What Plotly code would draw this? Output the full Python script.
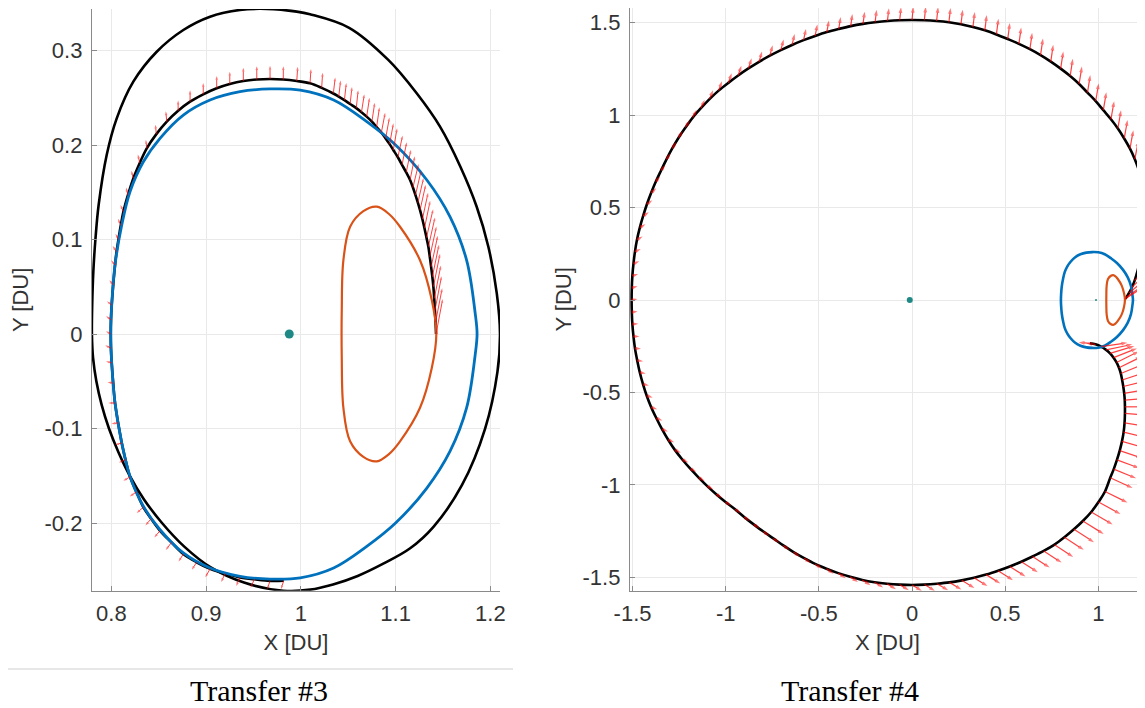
import plotly.graph_objects as go

# ---------------- shared periodic orbits ----------------
blue_x = [1.186, 1.184, 1.175, 1.1575, 1.133, 1.100, 1.0696, 1.0346, 0.9994, 0.9675, 0.9358, 0.9042, 0.876, 0.8514, 0.8338, 0.8197, 0.811, 0.8039, 0.8004, 0.7994,
          0.8004, 0.8039, 0.811, 0.8197, 0.8338, 0.8514, 0.876, 0.9042, 0.9358, 0.9675, 0.9994, 1.0346, 1.0696, 1.100, 1.133, 1.1575, 1.175, 1.184, 1.186]
blue_y = [0.0, 0.022, 0.078, 0.124, 0.163, 0.200, 0.2247, 0.2476, 0.258, 0.2593, 0.2564, 0.2476, 0.2317, 0.2071, 0.1823, 0.1506, 0.1153, 0.073, 0.0307, 0.0,
          -0.0307, -0.073, -0.1153, -0.1506, -0.1823, -0.2071, -0.2317, -0.2476, -0.2564, -0.2593, -0.258, -0.2476, -0.2247, -0.200, -0.163, -0.124, -0.078, -0.022, 0.0]

orange_x = [1.143, 1.1382, 1.1258, 1.1047, 1.093, 1.0801, 1.066, 1.052, 1.0449, 1.0432, 1.0432, 1.0449, 1.052, 1.066, 1.0801, 1.093, 1.1047, 1.1258, 1.1382, 1.143]
orange_y = [0.0, 0.036, 0.078, 0.1135, 0.127, 0.1347, 0.130, 0.1135, 0.078, 0.025, -0.025, -0.078, -0.1135, -0.130, -0.1347, -0.127, -0.1135, -0.078, -0.036, 0.0]

moon_x = [0.9878]
moon_y = [0.0]
earth_x = [-0.012]
earth_y = [0.0]

# ---------------- Transfer #3 ----------------
t3_out_x = [1.2102, 1.2068, 1.1979, 1.1856, 1.1684, 1.1469, 1.1223, 1.0923, 1.051, 1.0097, 0.9957, 0.964, 0.9358, 0.9042, 0.876, 0.8479, 0.8232,
            0.8057, 0.7951, 0.7866, 0.7832, 0.781, 0.7798, 0.7795, 0.7807, 0.7842, 0.7898, 0.7975, 0.8075, 0.8195, 0.8345, 0.8535, 0.877,
            0.905, 0.940, 0.9815, 1.010, 1.034, 1.060, 1.087, 1.115, 1.140, 1.170, 1.1945, 1.2075, 1.2102]
t3_out_y = [0.0, 0.043, 0.0924, 0.1347, 0.177, 0.2194, 0.2547, 0.290, 0.324, 0.3383, 0.3411, 0.344, 0.3429, 0.3358, 0.3217, 0.2987, 0.267,
            0.2282, 0.1894, 0.1365, 0.100, 0.066, 0.030, 0.0, -0.025, -0.050, -0.075, -0.100, -0.125, -0.150, -0.175, -0.200, -0.225,
            -0.247, -0.263, -0.2716, -0.2705, -0.265, -0.256, -0.243, -0.227, -0.204, -0.160, -0.100, -0.040, 0.0]

# thrust arc (also the arrow bases)
t3_in_x = [0.982, 0.9675, 0.951, 0.9358, 0.920, 0.9042, 0.890, 0.876, 0.8635, 0.8514, 0.842, 0.8338, 0.8265, 0.8197, 0.815, 0.811, 0.8072,
           0.8039, 0.802, 0.8004, 0.7996, 0.7994, 0.7996, 0.8004, 0.802, 0.8039,
           0.8055, 0.8075, 0.810, 0.8127, 0.8175, 0.8232, 0.830, 0.8374, 0.8475, 0.8585, 0.8705, 0.8831, 0.897, 0.9112, 0.925, 0.9393,
           0.9535, 0.9675, 0.9815, 0.9957, 1.0097, 1.022,
           1.0343, 1.040, 1.046, 1.052, 1.0585, 1.064, 1.0695, 1.075, 1.080, 1.085, 1.0895, 1.0937, 1.0976, 1.1024, 1.1068, 1.1112, 1.1153,
           1.1183, 1.121, 1.1235, 1.1258, 1.1283, 1.1305, 1.1326, 1.1346, 1.1361, 1.1375, 1.1388, 1.1399, 1.1408, 1.1415, 1.1422, 1.1427]
t3_in_y = [-0.261, -0.2612, -0.2595, -0.2575, -0.2535, -0.2485, -0.2415, -0.2328, -0.2205, -0.2082, -0.1955, -0.1833, -0.167, -0.1512, -0.133, -0.1153, -0.094,
           -0.073, -0.052, -0.0307, -0.015, 0.0, 0.015, 0.0307, 0.052, 0.073,
           0.087, 0.100, 0.115, 0.1294, 0.147, 0.1647, 0.181, 0.1965, 0.2115, 0.2247, 0.2362, 0.2458, 0.2536, 0.260, 0.2645, 0.2677,
           0.2693, 0.2698, 0.2693, 0.2677, 0.2653, 0.2605,
           0.2545, 0.2512, 0.2475, 0.2434, 0.239, 0.2347, 0.230, 0.2247, 0.219, 0.2132, 0.207, 0.2009, 0.1947, 0.187, 0.179, 0.171, 0.163,
           0.155, 0.147, 0.139, 0.131, 0.1215, 0.112, 0.102, 0.0924, 0.0817, 0.071, 0.0605, 0.050, 0.0375, 0.025, 0.0125, 0.0]
t3_thrust_u = [-0.003, -0.003, -0.004, -0.004, -0.004, -0.005, -0.005, -0.005, -0.006, -0.006, -0.006, -0.007,
               -0.007, -0.007, -0.007, -0.007, -0.007, -0.007, -0.006, -0.006, -0.006, -0.005, -0.005, -0.005, -0.004, -0.004,
               -0.004, -0.003, -0.003, -0.003, -0.002, -0.002, -0.002, -0.001, -0.001, -0.001, 0.0, 0.0, 0.0, 0.0, 0.0, 0.0,
               0.0, 0.0, 0.0, 0.001, 0.001, 0.001,
               0.002, 0.002, 0.002, 0.002, 0.002, 0.003, 0.003, 0.003, 0.003, 0.004, 0.004, 0.004, 0.004, 0.005, 0.005, 0.005, 0.005,
               0.006, 0.006, 0.006, 0.006, 0.006, 0.006, 0.007, 0.007, 0.007, 0.007, 0.007, 0.007, 0.007, 0.007, 0.007, 0.007]
t3_thrust_v = [-0.009, -0.009, -0.009, -0.009, -0.009, -0.009, -0.008, -0.008, -0.008, -0.007, -0.007, -0.006,
               -0.005, -0.004, -0.003, -0.002, -0.001, 0.0, 0.001, 0.002, 0.003, 0.003, 0.004, 0.004, 0.005, 0.005,
               0.006, 0.006, 0.007, 0.007, 0.008, 0.008, 0.009, 0.009, 0.010, 0.011, 0.011, 0.012, 0.012, 0.013, 0.013, 0.014,
               0.014, 0.014, 0.014, 0.015, 0.015, 0.016,
               0.017, 0.017, 0.018, 0.018, 0.019, 0.019, 0.020, 0.020, 0.021, 0.021, 0.022, 0.022, 0.023, 0.023, 0.024, 0.024, 0.025,
               0.025, 0.026, 0.026, 0.027, 0.028, 0.029, 0.030, 0.031, 0.032, 0.033, 0.034, 0.035, 0.035, 0.036, 0.036, 0.037]

# ---------------- Transfer #4 (trajectory points are also the arrow bases) ----------------
t4_x = [0.955, 0.985, 1.015, 1.042, 1.063, 1.082, 1.098, 1.111, 1.121, 1.128, 1.134, 1.139, 1.142, 1.143, 1.143,
        1.141, 1.136, 1.127, 1.115, 1.100, 1.083, 1.064,
        1.036, 1.001, 0.962, 0.917, 0.869, 0.818, 0.765, 0.707, 0.647, 0.587, 0.525, 0.462, 0.398, 0.333, 0.267, 0.201, 0.134, 0.067, 0.0,
        -0.067, -0.134, -0.201, -0.267, -0.332, -0.396, -0.459, -0.520, -0.579, -0.636, -0.691, -0.745, -0.798, -0.850, -0.901, -0.950,
        -1.001, -1.051, -1.099, -1.145, -1.190, -1.233, -1.273, -1.309, -1.342, -1.372, -1.400, -1.424, -1.444, -1.461, -1.475, -1.487,
        -1.495, -1.501, -1.504, -1.505,
        -1.504, -1.501, -1.495, -1.487, -1.476, -1.461, -1.443, -1.423, -1.400, -1.375, -1.347, -1.318, -1.287, -1.253, -1.216, -1.177,
        -1.133, -1.087, -1.038, -0.986, -0.933, -0.878, -0.821, -0.763, -0.704, -0.644, -0.582, -0.520, -0.457, -0.393, -0.329, -0.263,
        -0.198, -0.132, -0.066, 0.0,
        0.066, 0.132, 0.198, 0.263, 0.327, 0.391, 0.453, 0.514, 0.574, 0.633, 0.690, 0.745, 0.798, 0.849, 0.897, 0.942, 0.986, 1.027,
        1.068, 1.105, 1.139, 1.170, 1.196, 1.217, 1.230, 1.237, 1.245, 1.250,
        1.248, 1.243, 1.235, 1.224, 1.210, 1.195, 1.180, 1.165, 1.152, 1.143]
t4_y = [-0.234, -0.240, -0.252, -0.270, -0.289, -0.312, -0.338, -0.367, -0.398, -0.433, -0.468, -0.505, -0.542, -0.578, -0.613,
        -0.665, -0.715, -0.765, -0.815, -0.865, -0.915, -0.962,
        -1.036, -1.093, -1.147, -1.196, -1.241, -1.284, -1.324, -1.358, -1.388, -1.416, -1.442, -1.465, -1.486, -1.503, -1.517, -1.528, -1.535, -1.540, -1.542,
        -1.540, -1.535, -1.527, -1.515, -1.498, -1.478, -1.454, -1.428, -1.397, -1.364, -1.328, -1.290, -1.253, -1.214, -1.174, -1.132,
        -1.093, -1.051, -1.007, -0.961, -0.913, -0.863, -0.811, -0.756, -0.699, -0.640, -0.580, -0.518, -0.455, -0.392, -0.327, -0.262,
        -0.197, -0.131, -0.066, 0.0,
        0.066, 0.131, 0.197, 0.262, 0.327, 0.392, 0.455, 0.518, 0.580, 0.641, 0.701, 0.761, 0.820, 0.878, 0.933, 0.987,
        1.038, 1.087, 1.133, 1.175, 1.215, 1.253, 1.289, 1.322, 1.352, 1.380, 1.406, 1.429, 1.450, 1.467, 1.482, 1.494,
        1.503, 1.510, 1.514, 1.515,
        1.514, 1.510, 1.503, 1.492, 1.477, 1.459, 1.437, 1.412, 1.386, 1.357, 1.325, 1.290, 1.252, 1.212, 1.169, 1.122, 1.076, 1.027,
        0.978, 0.928, 0.874, 0.819, 0.762, 0.703, 0.640, 0.577, 0.516, 0.455,
        0.395, 0.335, 0.275, 0.215, 0.155, 0.105, 0.068, 0.038, 0.016, 0.005]
t4_thrust_u = [-0.060, -0.050, 0.140, 0.140, 0.130, 0.125, 0.120, 0.120, 0.120, 0.120, 0.120, 0.120, 0.120, 0.120, 0.120,
               0.120, 0.120, 0.120, 0.120, 0.120, 0.120, 0.120,
               0.120, 0.118, 0.115, 0.112, 0.108, 0.104, 0.100, 0.096, 0.092, 0.088, 0.084, 0.080, 0.076, 0.072, 0.068, 0.064, 0.060, 0.056, 0.053,
               0.050, 0.048, 0.046, 0.044, 0.042, 0.040, 0.038, 0.037, 0.036, 0.035, 0.034, 0.033, 0.033, 0.032, 0.032, 0.032,
               0.032, 0.032, 0.032, 0.032, 0.032, 0.032, 0.032, 0.032, 0.032, 0.032, 0.032, 0.032, 0.032, 0.032, 0.032, 0.032,
               0.032, 0.032, 0.031, 0.031,
               0.031, 0.031, 0.031, 0.031, 0.030, 0.030, 0.030, 0.029, 0.028, 0.023, 0.023, 0.022, 0.022, 0.022, 0.022, 0.021,
               0.020, 0.019, 0.018, 0.018, 0.017, 0.017, 0.016, 0.015, 0.015, 0.014, 0.013, 0.012, 0.011, 0.010, 0.009, 0.009,
               0.008, 0.008, 0.007, 0.007,
               0.008, 0.008, 0.009, 0.009, 0.010, 0.010, 0.011, 0.011, 0.012, 0.012, 0.013, 0.013, 0.014, 0.014, 0.015, 0.015, 0.016, 0.016,
               0.017, 0.017, 0.018, 0.018, 0.019, 0.020, 0.021, 0.022, 0.024, 0.026,
               0.030, 0.035, 0.040, 0.050, 0.060, 0.070, 0.080, 0.090, 0.100, 0.100]
t4_thrust_v = [0.004, 0.006, 0.020, 0.030, 0.040, 0.050, 0.060, 0.060, 0.050, 0.040, 0.030, 0.020, 0.010, 0.000, -0.010,
               -0.020, -0.030, -0.035, -0.040, -0.045, -0.050, -0.055,
               -0.060, -0.065, -0.068, -0.070, -0.070, -0.068, -0.066, -0.063, -0.060, -0.057, -0.054, -0.051, -0.048, -0.045, -0.042, -0.039, -0.036, -0.034, -0.032,
               -0.030, -0.030, -0.029, -0.028, -0.028, -0.027, -0.027, -0.026, -0.026, -0.025, -0.025, -0.024, -0.024, -0.023, -0.023, -0.022,
               -0.021, -0.020, -0.019, -0.018, -0.017, -0.016, -0.015, -0.014, -0.013, -0.012, -0.011, -0.010, -0.008, -0.006, -0.004, -0.002,
               0.000, 0.002, 0.004, 0.006,
               0.008, 0.010, 0.012, 0.014, 0.016, 0.018, 0.020, 0.022, 0.025, 0.028, 0.030, 0.033, 0.036, 0.038, 0.041, 0.043,
               0.046, 0.048, 0.051, 0.052, 0.053, 0.055, 0.056, 0.057, 0.058, 0.059, 0.061, 0.062, 0.063, 0.064, 0.065, 0.066,
               0.067, 0.068, 0.070, 0.071,
               0.073, 0.075, 0.077, 0.079, 0.081, 0.083, 0.085, 0.087, 0.088, 0.089, 0.090, 0.091, 0.092, 0.093, 0.094, 0.095, 0.096, 0.097,
               0.098, 0.099, 0.100, 0.100, 0.100, 0.100, 0.100, 0.100, 0.100, 0.100,
               0.100, 0.100, 0.100, 0.095, 0.090, 0.085, 0.080, 0.075, 0.070, 0.065]

left_xticks = [0.8, 0.9, 1.0, 1.1, 1.2]
left_xtext = ["0.8", "0.9", "1", "1.1", "1.2"]
left_yticks = [-0.2, -0.1, 0.0, 0.1, 0.2, 0.3]
left_ytext = ["-0.2", "-0.1", "0", "0.1", "0.2", "0.3"]
right_xticks = [-1.5, -1.0, -0.5, 0.0, 0.5, 1.0]
right_xtext = ["-1.5", "-1", "-0.5", "0", "0.5", "1"]
right_yticks = [-1.5, -1.0, -0.5, 0.0, 0.5, 1.0, 1.5]
right_ytext = ["-1.5", "-1", "-0.5", "0", "0.5", "1", "1.5"]
captions = ["Transfer #3", "Transfer #4"]

BLACK = "#000000"
BLUE = "#0072BD"
ORANGE = "#D95319"
TEAL = "#1f8a85"
RED = "rgba(255,0,0,0.75)"

# the page puts the figure 8 px in from the window's top-left corner
W, H, OFF = 1137, 700, 8


def px_x(px):
    return (px - OFF) / W


def px_y(py):
    return (H + OFF - py) / H


def arrow_trace(bx, by, u, v, head, width, xa, ya):
    xs, ys, sz = [], [], []
    for x0, y0, du, dv in zip(bx, by, u, v):
        xs += [x0, x0 + du, None]
        ys += [y0, y0 + dv, None]
        sz += [0, head, 0]
    return go.Scatter(x=xs, y=ys, mode="lines+markers", xaxis=xa, yaxis=ya,
                      line=dict(color=RED, width=width),
                      marker=dict(symbol="arrow", size=sz, color=RED, angleref="previous", line=dict(width=0)),
                      hoverinfo="skip", showlegend=False)


def curve(x, y, color, width, xa, ya):
    return go.Scatter(x=x, y=y, mode="lines", xaxis=xa, yaxis=ya,
                      line=dict(color=color, width=width, shape="spline", smoothing=1.0),
                      hoverinfo="skip", showlegend=False)


fig = go.Figure()
# left panel
fig.add_trace(curve(t3_out_x, t3_out_y, BLACK, 2.6, "x", "y"))
fig.add_trace(curve(t3_in_x, t3_in_y, BLACK, 2.6, "x", "y"))
fig.add_trace(curve(blue_x, blue_y, BLUE, 2.8, "x", "y"))
fig.add_trace(curve(orange_x, orange_y, ORANGE, 2.2, "x", "y"))
fig.add_trace(arrow_trace(t3_in_x, t3_in_y, t3_thrust_u, t3_thrust_v, 4, 1, "x", "y"))
fig.add_trace(go.Scatter(x=moon_x, y=moon_y, mode="markers", xaxis="x", yaxis="y",
                         marker=dict(color=TEAL, size=9), showlegend=False, hoverinfo="skip"))
# right panel
fig.add_trace(curve(t4_x, t4_y, BLACK, 2.6, "x2", "y2"))
fig.add_trace(curve(blue_x, blue_y, BLUE, 2.6, "x2", "y2"))
fig.add_trace(curve(orange_x, orange_y, ORANGE, 2.2, "x2", "y2"))
fig.add_trace(arrow_trace(t4_x, t4_y, t4_thrust_u, t4_thrust_v, 6, 1.2, "x2", "y2"))
fig.add_trace(go.Scatter(x=earth_x, y=earth_y, mode="markers", xaxis="x2", yaxis="y2",
                         marker=dict(color=TEAL, size=6), showlegend=False, hoverinfo="skip"))
fig.add_trace(go.Scatter(x=moon_x, y=moon_y, mode="markers", xaxis="x2", yaxis="y2",
                         marker=dict(color=TEAL, size=2), showlegend=False, hoverinfo="skip"))

TICKFONT = dict(family="Liberation Sans, Arial, sans-serif", size=22, color="#333333")
axis_common = dict(showline=True, linecolor="#8a8a8a", linewidth=1.3, mirror=False,
                   ticks="inside", ticklen=5, tickcolor="#8a8a8a", tickwidth=1,
                   showgrid=True, gridcolor="#e9e9e9", gridwidth=1, zeroline=False,
                   tickfont=TICKFONT, fixedrange=True, automargin=False)
xtitle = dict(text="X [DU]", font=TICKFONT, standoff=9)
ytitle = dict(text="Y [DU]", font=TICKFONT, standoff=9)
CAPFONT = dict(family="Liberation Serif, Times New Roman, serif", size=30, color="black")

fig.update_layout(
    width=W, height=H, margin=dict(l=0, r=0, t=0, b=0),
    paper_bgcolor="white", plot_bgcolor="white",
    xaxis=dict(domain=[px_x(92), px_x(500)], range=[0.7796, 1.2102], anchor="y",
               tickvals=left_xticks, ticktext=left_xtext, ticklabelstandoff=3, title=xtitle, **axis_common),
    yaxis=dict(domain=[px_y(590.7), px_y(9)], range=[-0.2716, 0.3439], anchor="x",
               tickvals=left_yticks, ticktext=left_ytext, ticklabelstandoff=4, title=ytitle, **axis_common),
    xaxis2=dict(domain=[px_x(630), 1.0], range=[-1.5137, 1.2507], anchor="y2",
                tickvals=right_xticks, ticktext=right_xtext, ticklabelstandoff=3, title=xtitle, **axis_common),
    yaxis2=dict(domain=[px_y(590.7), 1.0], range=[-1.573, 1.580], anchor="x2",
                tickvals=right_yticks, ticktext=right_ytext, ticklabelstandoff=4,
                title=dict(text="Y [DU]", font=TICKFONT, standoff=4), **axis_common),
    shapes=[dict(type="line", xref="paper", yref="paper", x0=0.0, x1=px_x(513),
                 y0=px_y(669), y1=px_y(669), line=dict(color="#cfcfcf", width=1))],
    annotations=[
        dict(text=captions[0], xref="paper", yref="paper", x=px_x(259), y=px_y(690),
             xanchor="center", yanchor="middle", showarrow=False, font=CAPFONT),
        dict(text=captions[1], xref="paper", yref="paper", x=px_x(850), y=px_y(690),
             xanchor="center", yanchor="middle", showarrow=False, font=CAPFONT),
    ],
)

fig.write_html("out.html")
